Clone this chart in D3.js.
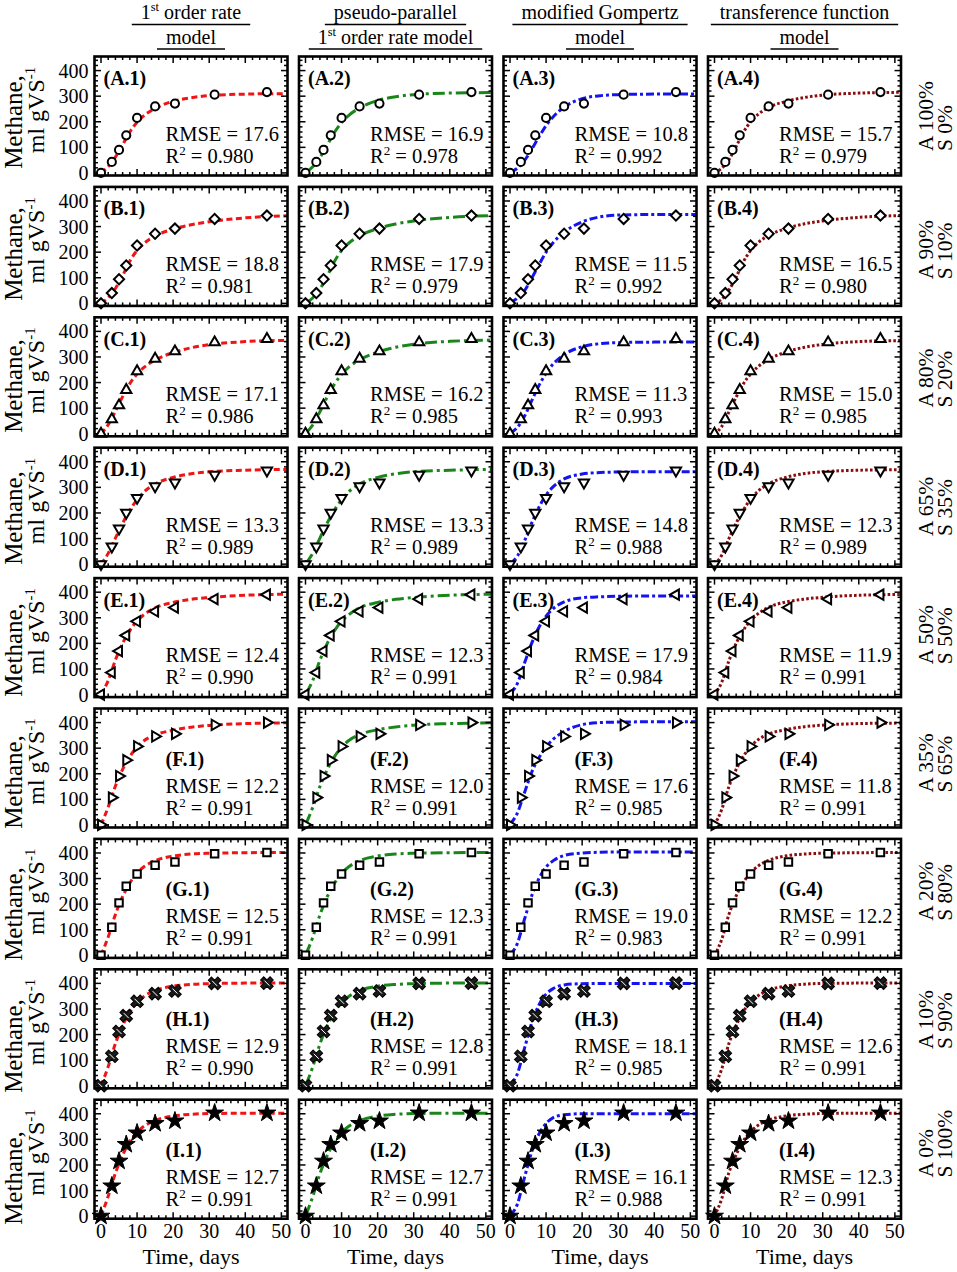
<!DOCTYPE html>
<html><head><meta charset="utf-8">
<script src="https://cdn.jsdelivr.net/npm/d3@7/dist/d3.min.js"></script>
<style>
html,body{margin:0;padding:0;background:#fff;}
svg{display:block;font-family:"Liberation Serif","Times New Roman",serif;}
</style></head>
<body><svg id="c" width="957" height="1272"></svg>
<script>
// ---------------- DATA ----------------
const rowIds = ["A","B","C","D","E","F","G","H","I"];
const mixA = ["A 100%","A 90%","A 80%","A 65%","A 50%","A 35%","A 20%","A 10%","A 0%"];
const mixS = ["S 0%","S 10%","S 20%","S 35%","S 50%","S 65%","S 80%","S 90%","S 100%"];
const markerTypes = ["circle","diamond","triUp","triDown","triLeft","triRight","square","cross","star"];

const dataDays = [0, 3, 5, 7, 10, 15, 20.5, 31.5, 46];
const dataA = [0, 43, 90, 147, 215, 260, 271, 306, 316];
const dataB = [0, 40, 94, 148, 226, 272, 292, 330, 343];
const dataC = [0, 57, 111, 171, 244, 293, 322, 357, 370];
const dataD = [0, 69, 139, 201, 259, 304, 319, 349, 366];
const dataE = [0, 86, 170, 231, 286, 325, 340, 373, 390];
const dataF = [0, 107, 191, 253, 307, 346, 356, 391, 400];
const dataG = [0, 110, 205, 270, 318, 352, 365, 397, 402];
const dataH = [0, 115, 212, 274, 330, 360, 370, 400, 401];
const dataI = [0, 118, 215, 280, 325, 362, 372, 403, 403];
const measured = [dataA, dataB, dataC, dataD, dataE, dataF, dataG, dataH, dataI];

// model curves at these days
const curveDays = [0, 2, 4, 6, 8, 10, 12, 15, 20, 25, 30, 40, 51.5];
const firstOrder = [
  [0, 25, 62, 110, 160, 198, 225, 252, 280, 294, 302, 308, 310],
  [0, 22, 58, 108, 165, 207, 235, 263, 290, 307, 319, 334, 342],
  [0, 35, 88, 145, 196, 233, 260, 288, 317, 336, 348, 360, 365],
  [0, 42, 102, 160, 211, 252, 283, 313, 339, 353, 361, 367, 370],
  [0, 55, 135, 200, 250, 287, 313, 339, 360, 372, 379, 388, 392],
  [0, 70, 152, 217, 267, 305, 330, 352, 370, 382, 389, 396, 399],
  [0, 72, 160, 230, 283, 322, 347, 370, 388, 396, 399, 401, 402],
  [0, 75, 165, 235, 288, 325, 350, 372, 389, 396, 399, 401, 401],
  [0, 78, 168, 238, 292, 328, 352, 374, 391, 398, 401, 402, 402]
];
const pseudoParallel = [
  [0, 24, 60, 108, 158, 197, 225, 254, 283, 298, 306, 312, 314],
  [0, 21, 56, 106, 163, 206, 235, 264, 292, 310, 322, 336, 343],
  [0, 34, 86, 143, 194, 232, 260, 289, 319, 338, 350, 361, 366],
  [0, 42, 102, 160, 211, 252, 283, 313, 339, 353, 361, 367, 370],
  [0, 55, 134, 199, 249, 286, 312, 339, 360, 372, 379, 388, 392],
  [0, 68, 150, 215, 266, 304, 330, 353, 372, 383, 390, 396, 399],
  [0, 70, 158, 228, 281, 320, 346, 370, 388, 396, 399, 401, 402],
  [0, 73, 163, 233, 287, 324, 349, 372, 389, 396, 399, 401, 401],
  [0, 76, 166, 236, 290, 327, 351, 373, 391, 398, 401, 402, 402]
];
const gompertz = [
  [3, 18, 48, 92, 140, 185, 220, 257, 290, 302, 306, 308, 308],
  [2, 20, 49, 98, 150, 200, 238, 278, 318, 338, 345, 347, 347],
  [2, 24, 68, 128, 188, 236, 273, 309, 340, 352, 356, 358, 358],
  [2, 30, 90, 160, 222, 270, 303, 333, 352, 358, 360, 361, 361],
  [3, 42, 122, 200, 262, 306, 336, 362, 378, 382, 384, 385, 385],
  [3, 45, 125, 205, 262, 305, 335, 365, 392, 400, 402, 403, 403],
  [3, 45, 140, 232, 300, 345, 370, 390, 400, 403, 404, 404, 404],
  [3, 45, 145, 245, 315, 358, 380, 394, 399, 400, 400, 400, 400],
  [3, 45, 150, 250, 320, 362, 385, 396, 400, 400, 400, 400, 400]
];
const transference = [
  [0, 18, 52, 103, 158, 200, 228, 256, 280, 295, 304, 312, 315],
  [0, 16, 52, 103, 162, 206, 236, 265, 293, 311, 322, 336, 343],
  [0, 28, 85, 143, 195, 233, 261, 290, 320, 338, 349, 360, 364],
  [0, 35, 100, 160, 212, 253, 284, 314, 340, 354, 361, 367, 369],
  [0, 48, 132, 200, 251, 289, 315, 341, 362, 373, 380, 388, 391],
  [0, 60, 150, 217, 268, 306, 332, 355, 373, 384, 390, 396, 398],
  [0, 62, 160, 232, 285, 323, 348, 371, 389, 396, 399, 401, 402],
  [0, 65, 165, 236, 290, 327, 351, 373, 390, 397, 400, 401, 401],
  [0, 68, 170, 240, 294, 330, 354, 375, 392, 398, 401, 402, 402]
];
const models = [firstOrder, pseudoParallel, gompertz, transference];

const rmse1 = [17.6, 18.8, 17.1, 13.3, 12.4, 12.2, 12.5, 12.9, 12.7];
const rmse2 = [16.9, 17.9, 16.2, 13.3, 12.3, 12.0, 12.3, 12.8, 12.7];
const rmse3 = [10.8, 11.5, 11.3, 14.8, 17.9, 17.6, 19.0, 18.1, 16.1];
const rmse4 = [15.7, 16.5, 15.0, 12.3, 11.9, 11.8, 12.2, 12.6, 12.3];
const r2_1 = [0.980, 0.981, 0.986, 0.989, 0.990, 0.991, 0.991, 0.990, 0.991];
const r2_2 = [0.978, 0.979, 0.985, 0.989, 0.991, 0.991, 0.991, 0.991, 0.991];
const r2_3 = [0.992, 0.992, 0.993, 0.988, 0.984, 0.985, 0.983, 0.985, 0.988];
const r2_4 = [0.979, 0.980, 0.985, 0.989, 0.991, 0.991, 0.991, 0.991, 0.991];
const rmseAll = [rmse1, rmse2, rmse3, rmse4];
const r2All = [r2_1, r2_2, r2_3, r2_4];

const headLine1 = [["1","st"," order rate"], ["pseudo-parallel"], ["modified Gompertz"], ["transference function"]];
const headLine2 = [["model"], ["1","st"," order rate model"], ["model"], ["model"]];
const xTicks = [0, 10, 20, 30, 40, 50];
const yTicks = [0, 100, 200, 300, 400];

// ---------------- STYLE ----------------
const colStyle = [
  {color:"#f01414", dash:"6,3.5"},
  {color:"#1a861a", dash:"12,4,3,4"},
  {color:"#1414f0", dash:"8,3,3,3"},
  {color:"#8a0c0c", dash:"2.6,2.2"}
];
const svg = d3.select("#c");
const panelW = 193, panelH = 119;
const colLeft = c => 94.5 + c*204.5;
const rowTop = r => 56.5 + r*130.4;

// ---------------- HEADERS ----------------
function addRich(g, parts, x, y, size, anchor) {
  const t = g.append("text").attr("x", x).attr("y", y).attr("font-size", size)
    .attr("text-anchor", anchor || "middle").attr("fill", "#000");
  if (parts.length === 1) { t.text(parts[0]); return t; }
  t.append("tspan").text(parts[0]);
  t.append("tspan").attr("dy", -size*0.4).attr("font-size", size*0.62).text(parts[1]);
  t.append("tspan").attr("dy", size*0.4).text(parts[2]);
  return t;
}
for (let c = 0; c < 4; c++) {
  const cx = colLeft(c) + panelW/2;
  [[headLine1[c], 18.5, 24.5], [headLine2[c], 43.5, 49]].forEach(([parts, by, uy]) => {
    const t = addRich(svg, parts, cx, by, 20);
    const w = t.node().getComputedTextLength();
    svg.append("line").attr("x1", cx - w/2 - 9).attr("x2", cx + w/2 + 9)
      .attr("y1", uy).attr("y2", uy).attr("stroke", "#000").attr("stroke-width", 1.5);
  });
}

// ---------------- PANELS ----------------
function marker(g, type, px, py) {
  const sym = d3.symbol();
  let path, rot = 0, fill = "#fff", sw = 2;
  switch (type) {
    case "circle": path = sym.type(d3.symbolCircle).size(52)(); break;
    case "diamond": path = sym.type(d3.symbolSquare).size(52)(); rot = 45; break;
    case "triUp": path = sym.type(d3.symbolTriangle).size(46)(); break;
    case "triDown": path = sym.type(d3.symbolTriangle).size(46)(); rot = 180; break;
    case "triLeft": path = sym.type(d3.symbolTriangle).size(46)(); rot = -90; break;
    case "triRight": path = sym.type(d3.symbolTriangle).size(46)(); rot = 90; break;
    case "square": path = sym.type(d3.symbolSquare).size(56)(); break;
    case "cross": path = sym.type(d3.symbolCross).size(100)(); rot = 45; fill = "#1a1a1a"; sw = 1; break;
    case "star": path = sym.type(d3.symbolStar).size(100)(); fill = "#000"; sw = 1; break;
  }
  g.append("path").attr("d", path).attr("transform", `translate(${px},${py}) rotate(${rot})`)
    .attr("fill", fill).attr("stroke", "#000").attr("stroke-width", sw).attr("stroke-linejoin", "miter");
  if (type === "cross") {
    g.append("line").attr("x1", px-2.5).attr("y1", py-2.5).attr("x2", px+2.5).attr("y2", py+2.5)
      .attr("stroke", "#fff").attr("stroke-width", 1);
  }
}

for (let r = 0; r < 9; r++) {
  for (let c = 0; c < 4; c++) {
    const L = colLeft(c), T = rowTop(r);
    const x = d3.scaleLinear().domain([-1.8, 51.7]).range([L, L + panelW]);
    const y = d3.scaleLinear().domain([-10, 455]).range([T + panelH, T]);
    const g = svg.append("g");

    // curve
    const pts = curveDays.map((d, i) => [d, models[c][r][i]]);
    const line = d3.line().x(d => x(d[0])).y(d => y(d[1])).curve(d3.curveMonotoneX);
    g.append("path").attr("d", line(pts)).attr("fill", "none")
      .attr("stroke", colStyle[c].color).attr("stroke-width", 3)
      .attr("stroke-dasharray", colStyle[c].dash);

    // ticks
    const tk = g.append("g").attr("stroke", "#000").attr("stroke-width", 1.5);
    for (let v = 0; v <= 50; v += 2) {
      const len = v % 10 === 0 ? 6.5 : 3.5;
      const xx = x(v);
      tk.append("line").attr("x1", xx).attr("x2", xx).attr("y1", T + panelH).attr("y2", T + panelH - len);
      tk.append("line").attr("x1", xx).attr("x2", xx).attr("y1", T).attr("y2", T + len);
    }
    for (let v = 0; v <= 440; v += 20) {
      const len = v % 100 === 0 ? 6.5 : 3.5;
      const yy = y(v);
      tk.append("line").attr("y1", yy).attr("y2", yy).attr("x1", L).attr("x2", L + len);
      tk.append("line").attr("y1", yy).attr("y2", yy).attr("x1", L + panelW).attr("x2", L + panelW - len);
    }

    // data markers
    dataDays.forEach((d, i) => marker(g, markerTypes[r], x(d), y(measured[r][i])));

    // frame
    g.append("rect").attr("x", L).attr("y", T).attr("width", panelW).attr("height", panelH)
      .attr("fill", "none").attr("stroke", "#000").attr("stroke-width", 2.6);

    // texts
    const lab = `(${rowIds[r]}.${c+1})`;
    const lp = r < 5 ? [L + 9, T + 28.5] : [L + 71, T + 57];
    g.append("text").attr("x", lp[0]).attr("y", lp[1]).attr("font-size", 20).attr("font-weight", "bold").text(lab);
    g.append("text").attr("x", L + 71).attr("y", T + 84).attr("font-size", 20.5)
      .text(`RMSE = ${rmseAll[c][r].toFixed(1)}`);
    const rt = g.append("text").attr("x", L + 71).attr("y", T + 106).attr("font-size", 20.5);
    rt.append("tspan").text("R");
    rt.append("tspan").attr("dy", -8).attr("font-size", 13).text("2");
    rt.append("tspan").attr("dy", 8).text(` = ${r2All[c][r].toFixed(3)}`);

    // y-axis tick labels
    if (c === 0) {
      yTicks.forEach(v => g.append("text").attr("x", L - 6).attr("y", y(v) + 7)
        .attr("text-anchor", "end").attr("font-size", 20).text(v));
    }
    // x-axis tick labels
    if (r === 8) {
      xTicks.forEach(v => g.append("text").attr("x", x(v)).attr("y", T + panelH + 19.5)
        .attr("text-anchor", "middle").attr("font-size", 20).text(v));
      g.append("text").attr("x", L + panelW/2).attr("y", 1264).attr("text-anchor", "middle")
        .attr("font-size", 22).text("Time, days");
    }
  }
  // y-axis title
  svg.append("text").attr("transform", `translate(22,${122 + r*132}) rotate(-90)`)
    .attr("text-anchor", "middle").attr("font-size", 25).text("Methane,");
  const t2 = svg.append("text").attr("transform", `translate(44,${110 + r*130.3}) rotate(-90)`)
    .attr("text-anchor", "middle").attr("font-size", 24);
  t2.append("tspan").text("ml gVS");
  t2.append("tspan").attr("dy", -9).attr("font-size", 15).text("-1");
  // right labels
  const sy = 151 + r*128.3;
  svg.append("text").attr("transform", `translate(933,${sy}) rotate(-90)`)
    .attr("font-size", 21.5).text(mixA[r]);
  svg.append("text").attr("transform", `translate(952,${sy}) rotate(-90)`)
    .attr("font-size", 21.5).text(mixS[r]);
}
</script></body></html>
